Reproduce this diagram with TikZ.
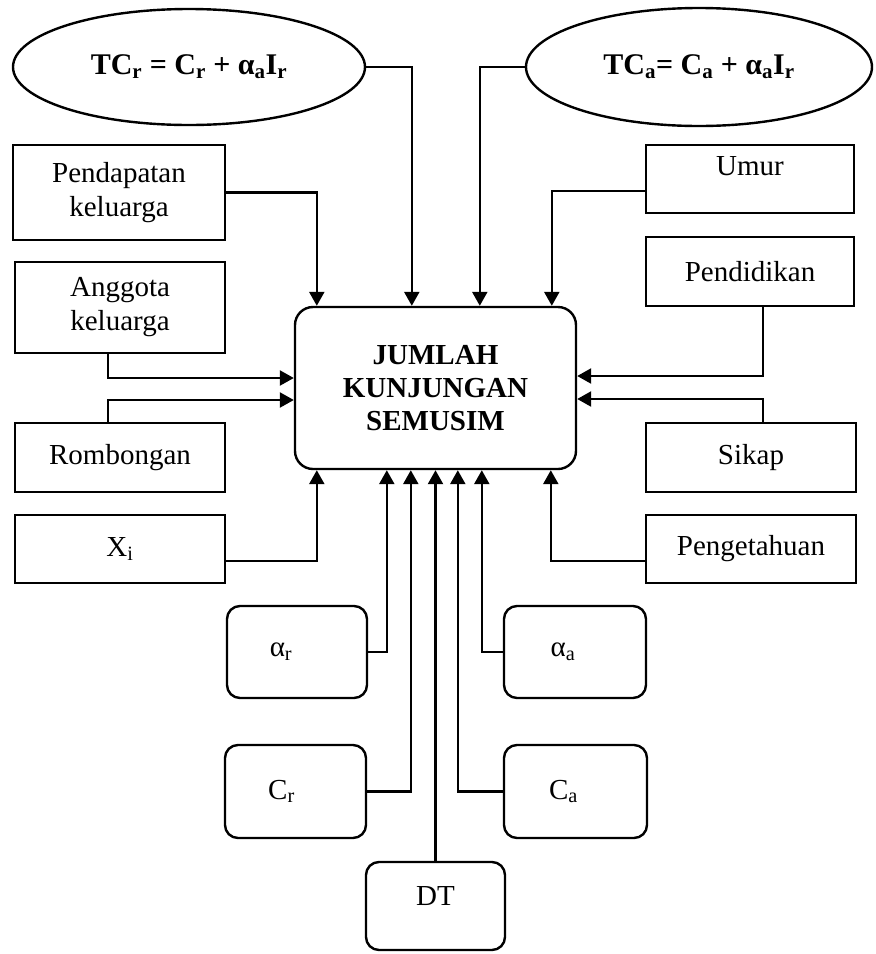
\documentclass[tikz,border=0pt]{standalone}
\usepackage{fontspec}
\setmainfont{Liberation Serif}
\usetikzlibrary{shapes.geometric,arrows.meta}
\tikzset{
  mybox/.style={draw, line width=2.4pt, rectangle, inner sep=0pt, align=center,
    font=\fontsize{29pt}{34pt}\selectfont},
  rbox/.style={mybox, rounded corners=13pt},
  ell/.style={draw, line width=2.4pt, ellipse, inner sep=0pt,
    font=\bfseries\fontsize{30pt}{34pt}\selectfont},
  conn/.style={line width=2.4pt, -{Triangle[length=14pt,width=15pt]}},
}
\newcommand{\sbs}[1]{\textsubscript{#1}}
\begin{document}
\begin{tikzpicture}[x=1pt,y=-1pt]
\useasboundingbox (0,0) rectangle (876,954);
% ellipses
\node[ell, minimum width=352pt, minimum height=116pt] (tcr) at (189,67)
  {TC\sbs{r} = C\sbs{r} + α\sbs{a}I\sbs{r}};
\node[ell, minimum width=346pt, minimum height=118pt] (tca) at (699,67)
  {TC\sbs{a}= C\sbs{a} + α\sbs{a}I\sbs{r}};
% left boxes
\node[mybox, minimum width=212pt, minimum height=95pt] (pend) at (119,192.5) {Pendapatan\\keluarga};
\node[mybox, minimum width=210pt, minimum height=91pt] (ang) at (120,307.5) {Anggota\\keluarga};
\node[mybox, minimum width=210pt, minimum height=69pt] (rom) at (120,457.5) {Rombongan};
\node[mybox, minimum width=210pt, minimum height=68pt] (xi) at (120,549) {X\sbs{i}};
% right boxes
\node[mybox, minimum width=208pt, minimum height=68pt] (umur) at (750,179) {\raisebox{4pt}[0pt][0pt]{Umur}};
\node[mybox, minimum width=208pt, minimum height=69pt] (pendi) at (750,271.5) {Pendidikan};
\node[mybox, minimum width=210pt, minimum height=69pt] (sikap) at (751,457.5) {Sikap};
\node[mybox, minimum width=210pt, minimum height=68pt] (peng) at (751,549) {Pengetahuan};
% center
\node[mybox, rounded corners=18pt, minimum width=281pt, minimum height=162pt,
  font=\bfseries\fontsize{29pt}{33pt}\selectfont] (jk) at (435.5,388)
  {JUMLAH\\KUNJUNGAN\\SEMUSIM};
% bottom boxes
\node[rbox, minimum width=140pt, minimum height=92pt] (ar) at (297,652) {\hspace*{-32pt}α\sbs{r}};
\node[rbox, minimum width=142pt, minimum height=92pt] (aa) at (575,652) {\hspace*{-24pt}α\sbs{a}};
\node[rbox, minimum width=141pt, minimum height=93pt] (cr) at (295.5,791.5) {\hspace*{-28pt}C\sbs{r}};
\node[rbox, minimum width=143pt, minimum height=93pt] (ca) at (575.5,791.5) {\hspace*{-24pt}C\sbs{a}};
\node[rbox, minimum width=139pt, minimum height=88pt] (dt) at (435.5,906) {\raisebox{1pt}[0pt][0pt]{DT}};
% connectors from top
\draw[conn] (tcr.east) -| ([xshift=118pt]jk.north west);
\draw[conn] (tca.west) -| ([xshift=186pt]jk.north west);
\draw[conn] (pend.east) -| ([xshift=23pt]jk.north west);
\draw[conn] ([yshift=-12pt]umur.west) -| ([xshift=258pt]jk.north west);
% left side
\draw[conn] ([xshift=-12pt]ang.south) |- ([yshift=10pt]jk.west);
\draw[conn] ([xshift=-12pt]rom.north) |- ([yshift=-12pt]jk.west);
% right side
\draw[conn] ([xshift=13pt]pendi.south) |- ([yshift=12pt]jk.east);
\draw[conn] ([xshift=12pt]sikap.north) |- ([yshift=-11pt]jk.east);
% bottom
\draw[conn] ([yshift=-12pt]xi.east) -| ([xshift=23pt]jk.south west);
\draw[conn] ([yshift=-12pt]peng.west) -| ([xshift=257pt]jk.south west);
\draw[conn] (ar.east) -| ([xshift=93pt]jk.south west);
\draw[conn] (cr.east) -| ([xshift=117pt]jk.south west);
\draw[conn] (dt.north) -- (dt.north |- jk.south);
\draw[conn] (ca.west) -| ([xshift=164pt]jk.south west);
\draw[conn] (aa.west) -| ([xshift=188pt]jk.south west);
\end{tikzpicture}
\end{document}
